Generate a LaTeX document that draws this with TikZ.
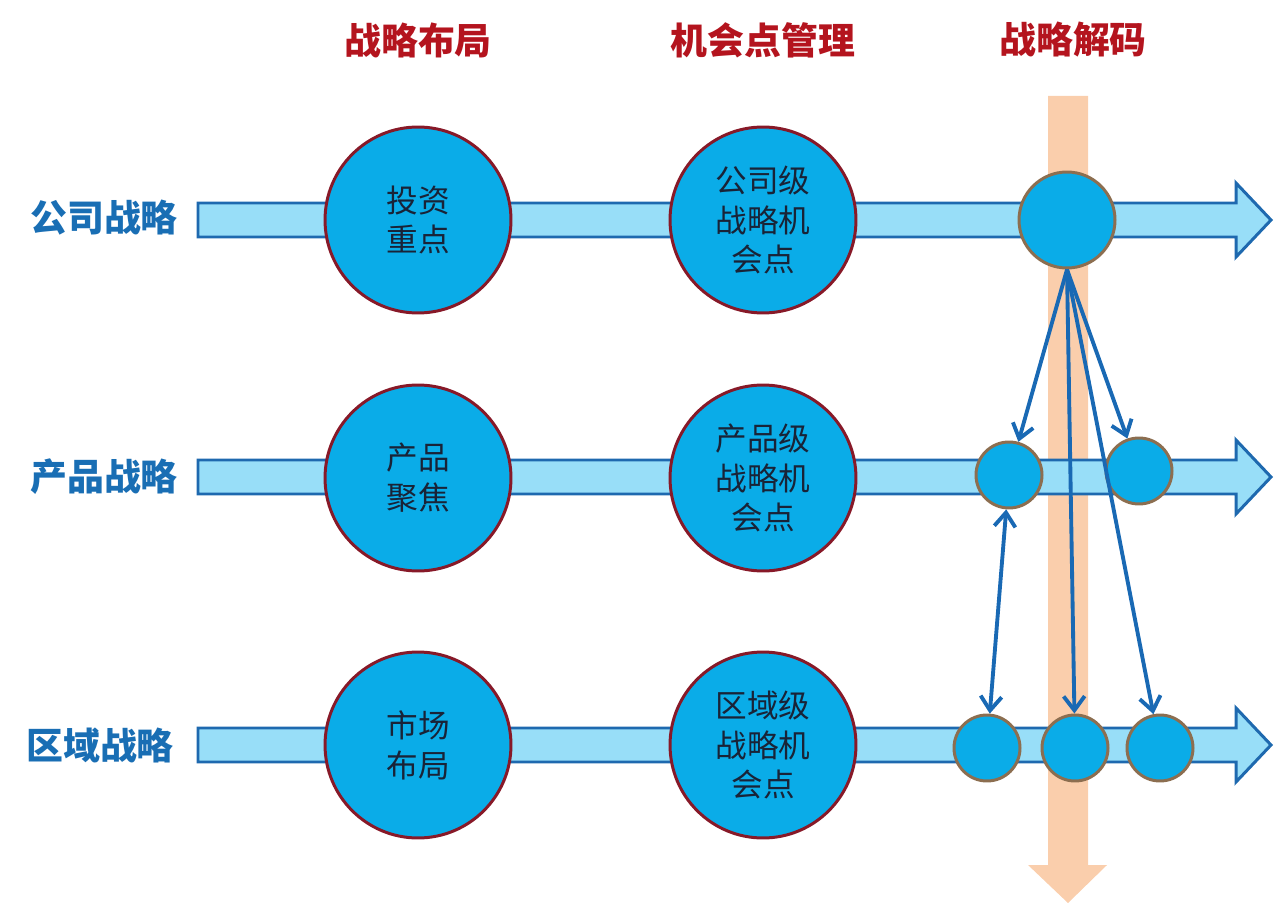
\documentclass[tikz,border=0pt]{standalone}
\usepackage{fontspec}
\newfontfamily\cjk{Noto Sans CJK SC}
\usetikzlibrary{arrows.meta,positioning}

\definecolor{shaftfill}{RGB}{152,222,248}
\definecolor{shaftedge}{RGB}{30,105,175}
\definecolor{cfill}{RGB}{10,172,232}
\definecolor{bigedge}{RGB}{135,25,40}
\definecolor{smalledge}{RGB}{140,110,80}
\definecolor{peach}{RGB}{250,206,172}
\definecolor{titlered}{RGB}{180,20,30}
\definecolor{labelblue}{RGB}{25,110,180}
\definecolor{ctext}{RGB}{25,35,55}
\definecolor{linkblue}{RGB}{25,105,180}

\begin{document}
\begin{tikzpicture}[x=0.02cm, y=-0.02cm,
    >={Straight Barb[length=8pt,width=12pt]},
    rowarrow/.style={fill=shaftfill, draw=shaftedge, line width=1.7pt, line join=miter},
    bigc/.style={circle, draw=bigedge, line width=1.7pt, fill=cfill, minimum size=3.72cm,
      inner sep=0pt, align=center, text=ctext, font=\cjk\fontsize{18}{22.7}\selectfont},
    smallc/.style={circle, draw=smalledge, line width=1.7pt, fill=cfill, minimum size=1.32cm, inner sep=0pt},
    title/.style={text=titlered, font=\cjk\bfseries\fontsize{21}{25}\selectfont},
    rowlabel/.style={anchor=east, text=labelblue, font=\cjk\bfseries\fontsize{21}{25}\selectfont},
    link/.style={draw=linkblue, line width=2.2pt}]
  \useasboundingbox (0,0) rectangle (1274,905);

  % decoding bar
  \fill[peach] (1048,96) -- (1088,96) -- (1088,865) -- (1107,865) -- (1068,903)
    -- (1028,865) -- (1048,865) -- cycle;

  % strategy rows
  \foreach \y in {220,477,745}
    \draw[rowarrow] (198,\y-17) -- (1236,\y-17) -- (1236,\y-37) -- (1271,\y)
      -- (1236,\y+37) -- (1236,\y+17) -- (198,\y+17) -- cycle;

  \node[title] (t1) at (418,40) {战略布局};
  \node[title] (t2) at (763,40) {机会点管理};
  \node[title] (t3) at (1073,40) {战略解码};

  \node[rowlabel] (l1) at (184,218) {公司战略};
  \node[rowlabel] (l2) at (184,477) {产品战略};
  \node[rowlabel] (l3) at (180,745) {区域战略};

  \node[bigc] (p1) at (418,220) {投资\\重点};
  \node[bigc] (p2) at (418,478) {产品\\聚焦};
  \node[bigc] (p3) at (418,745) {市场\\布局};
  \node[bigc] (o1) at (763,220) {公司级\\战略机\\会点};
  \node[bigc] (o2) at (763,478) {产品级\\战略机\\会点};
  \node[bigc] (o3) at (763,745) {区域级\\战略机\\会点};

  \node[smallc, minimum size=1.92cm] (d1) at (1067,220) {};
  \node[smallc] (c21) at (1009,475) {};
  \node[smallc] (c22) at (1139,471) {};
  \node[smallc] (c31) at (987,748) {};
  \node[smallc] (c32) at (1075,748) {};
  \node[smallc] (c33) at (1160,748) {};

  \draw[link,->] (d1.south) -- (c21);
  \draw[link,->] (d1.south) -- (c22);
  \draw[link,->] (d1.south) -- (c32);
  \draw[link,->] (d1.south) -- (c33);
  \draw[link,<->] (c21) -- (c31);
\end{tikzpicture}
\end{document}
